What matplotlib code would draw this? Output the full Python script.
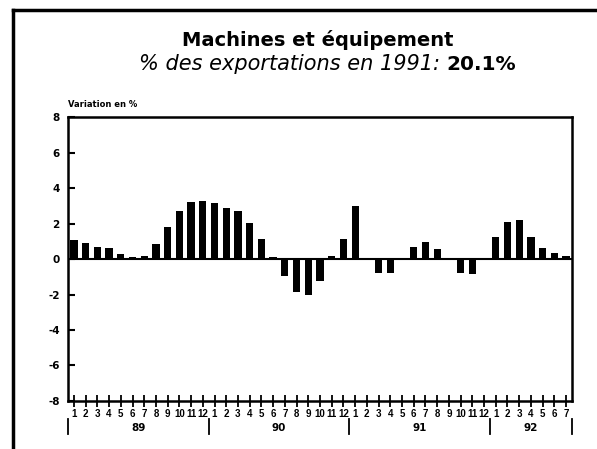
import matplotlib
matplotlib.use("Agg")
import matplotlib.pyplot as plt
import numpy as np

# monthly change, Jan 1989 - Jul 1992
years = ["89", "90", "91", "92"]
months_per_year = [12, 12, 12, 7]
values = [1.1, 0.9, 0.7, 0.6, 0.3, 0.1, 0.2, 0.85, 1.8, 2.7, 3.2, 3.3,
          3.15, 2.9, 2.7, 2.05, 1.15, 0.1, -0.95, -1.85, -2.0, -1.25, 0.2, 1.15,
          3.0, 0.0, -0.8, -0.8, 0.0, 0.7, 0.95, 0.55, 0.0, -0.8, -0.85, 0.0,
          1.25, 2.1, 2.2, 1.25, 0.65, 0.35, 0.15]
month_labels = [str(m) for n in months_per_year for m in range(1, n + 1)]
y_ticks = [-8, -6, -4, -2, 0, 2, 4, 6, 8]

fig = plt.figure(figsize=(5.97, 4.49), dpi=100)
ax = fig.add_axes([0.114, 0.107, 0.844, 0.632])

x = np.arange(len(values))
ax.bar(x, values, width=0.62, color="black")
ax.axhline(0, color="black", lw=1.5)

ax.set_xlim(-0.5, len(values) - 0.5)
ax.set_ylim(-8, 8)
ax.set_yticks(y_ticks)
ax.set_yticklabels([str(v) for v in y_ticks], fontsize=7.5, fontweight="bold")
ax.tick_params(axis="y", direction="in", length=5, width=1.5, pad=6)
ax.set_xticks(x)
ax.set_xticklabels(month_labels, fontsize=7, fontweight="bold", family="Liberation Sans")
ax.tick_params(axis="x", direction="inout", length=9, width=1.3, pad=1)
for s in ax.spines.values():
    s.set_linewidth(1.8)

# year groups under the month labels
trans = ax.get_xaxis_transform()
start = 0
bounds = [-0.5]
for yr, n in zip(years, months_per_year):
    ax.text(start + (n - 1) / 2, -0.095, yr, transform=trans, ha="center", va="center",
            fontsize=7.5, fontweight="bold")
    start += n
    bounds.append(start - 0.5)
for b in bounds:
    ax.plot([b, b], [-0.065, -0.115], transform=trans, color="black", lw=1.3, clip_on=False)

ax.text(0, 1.03, "Variation en %", transform=ax.transAxes, fontsize=6, fontweight="bold", va="bottom")

fig.text(0.532, 0.91, "Machines et équipement", ha="center", va="center", fontsize=14, fontweight="bold")
fig.text(0.748, 0.857, "% des exportations en 1991: ", ha="right", va="center", fontsize=15, style="italic")
fig.text(0.748, 0.857, "20.1%", ha="left", va="center", fontsize=14.5, fontweight="bold")

# outer frame (left and top edges visible)
fig.add_artist(plt.Line2D([0.022, 0.022], [0.0, 0.978], color="black", lw=2.5, transform=fig.transFigure))
fig.add_artist(plt.Line2D([0.022, 1.0], [0.978, 0.978], color="black", lw=2.5, transform=fig.transFigure))

fig.savefig("out.png", dpi=100)
